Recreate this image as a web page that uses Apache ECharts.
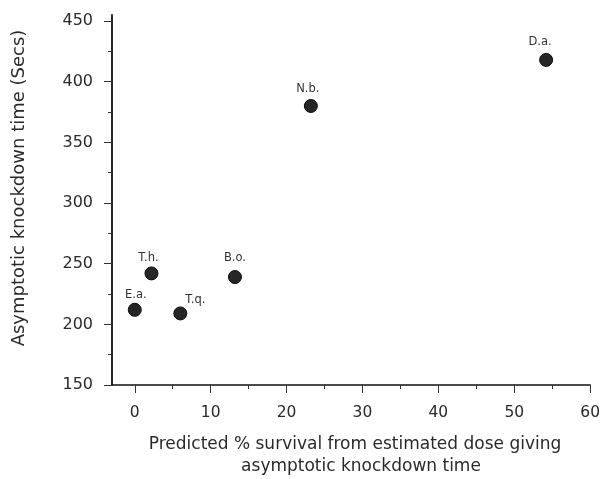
<!DOCTYPE html>
<html>
<head>
<meta charset="utf-8">
<script src="https://cdn.jsdelivr.net/npm/echarts@6/dist/echarts.min.js"></script>
<style>
  html, body { margin: 0; padding: 0; background: #fff; }
  #chart { width: 603px; height: 479px; }
</style>
</head>
<body>
<div id="chart"></div>
<script>
// Species codes and their measurements
const species = ['E.a.', 'T.h.', 'T.q.', 'B.o.', 'N.b.', 'D.a.'];
const survivalPct = [0, 2.2, 6.0, 13.2, 23.2, 54.2];
const knockdownSecs = [212, 242, 209, 239, 380, 418];

// Axis tick values
const xMajorTicks = [0, 10, 20, 30, 40, 50, 60];
const xMinorTicks = [5, 15, 25, 35, 45, 55];
const yMajorTicks = [150, 200, 250, 300, 350, 400, 450];
const yMinorTicks = [175, 225, 275, 325, 375, 425];

const FONT = 'DejaVu Sans';
const INK = '#2a2a2a';

// label nudges so the species codes sit where they read best
const labelNudge = {
  'E.a.': [1, 0], 'T.h.': [-3, 0], 'T.q.': [15, 2],
  'B.o.': [0, -4], 'N.b.': [-3, -1.5], 'D.a.': [-6, -3]
};

const points = species.map((name, i) => ({
  name: name,
  value: [survivalPct[i], knockdownSecs[i]],
  label: { offset: labelNudge[name] }
}));

const chart = echarts.init(document.getElementById('chart'));

const xBase = { type: 'value', min: -3, max: 60, gridIndex: 0, position: 'bottom', splitLine: { show: false } };
const yBase = { type: 'value', min: 150, max: 455, gridIndex: 0, position: 'left', splitLine: { show: false } };

chart.setOption({
  animation: false,
  backgroundColor: '#fff',
  grid: { left: 112, right: 9, top: 15, bottom: 94, containLabel: false },
  xAxis: [
    Object.assign({}, xBase, {
      axisLine: { onZero: false, lineStyle: { color: '#111', width: 1.6 } },
      axisTick: { show: true, customValues: xMajorTicks, length: 8, lineStyle: { color: '#333', width: 1 } },
      axisLabel: { customValues: xMajorTicks, margin: 20, color: INK, fontFamily: FONT, fontSize: 15.5 }
    }),
    Object.assign({}, xBase, {
      axisLine: { show: false, onZero: false },
      axisTick: { show: true, customValues: xMinorTicks, length: 4, lineStyle: { color: '#333', width: 1 } },
      axisLabel: { show: false }
    })
  ],
  yAxis: [
    Object.assign({}, yBase, {
      axisLine: { show: true, onZero: false, lineStyle: { color: '#111', width: 1.8 } },
      axisTick: { show: true, customValues: yMajorTicks, length: 8, lineStyle: { color: '#333', width: 1 } },
      axisLabel: { customValues: yMajorTicks, margin: 19, color: INK, fontFamily: FONT, fontSize: 16 }
    }),
    Object.assign({}, yBase, {
      axisLine: { show: false, onZero: false },
      axisTick: { show: true, customValues: yMinorTicks, length: 4, lineStyle: { color: '#333', width: 1 } },
      axisLabel: { show: false }
    })
  ],
  series: [{
    type: 'scatter',
    xAxisIndex: 0,
    yAxisIndex: 0,
    symbol: 'circle',
    symbolSize: 13,
    itemStyle: { color: '#262626', borderColor: '#0a0a0a', borderWidth: 1, opacity: 1 },
    label: {
      show: true,
      position: 'top',
      distance: 2,
      formatter: p => p.name,
      color: '#333',
      fontFamily: FONT,
      fontSize: 11.5
    },
    data: points
  }],
  graphic: [
    {
      type: 'text',
      x: 19, y: 188,
      rotation: Math.PI / 2,
      style: {
        text: 'Asymptotic knockdown time (Secs)',
        fontFamily: FONT, fontSize: 18, fill: INK,
        textAlign: 'center', textVerticalAlign: 'middle'
      }
    },
    {
      type: 'text',
      x: 355, y: 445,
      style: {
        text: 'Predicted % survival from estimated dose giving',
        fontFamily: FONT, fontSize: 17, fill: INK,
        textAlign: 'center', textVerticalAlign: 'middle'
      }
    },
    {
      type: 'text',
      x: 361, y: 467,
      style: {
        text: 'asymptotic knockdown time',
        fontFamily: FONT, fontSize: 17, fill: INK,
        textAlign: 'center', textVerticalAlign: 'middle'
      }
    }
  ]
});
</script>
</body>
</html>
